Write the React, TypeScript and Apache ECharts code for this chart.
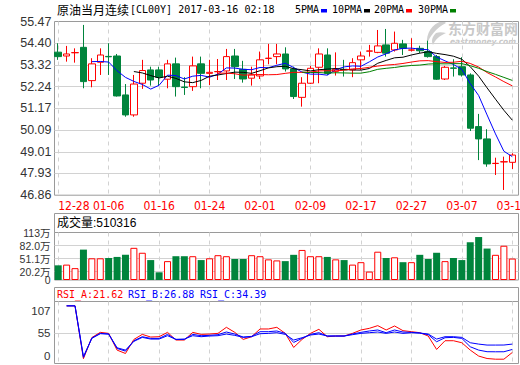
import React, { useEffect, useRef } from 'react';
import * as echarts from 'echarts';

const dates = ['12-28','12-29','12-30','01-03','01-04','01-05','01-06','01-09','01-10','01-11','01-12','01-13','01-16','01-17','01-18','01-19','01-20','01-23','01-24','01-25','01-26','01-27','01-30','01-31','02-01','02-02','02-03','02-06','02-07','02-08','02-09','02-10','02-13','02-14','02-15','02-16','02-17','02-20','02-21','02-22','02-23','02-24','02-27','02-28','03-01','03-02','03-03','03-06','03-07','03-08','03-09','03-10','03-13','03-14','03-15'];
const dateTickIndex = [0, 6, 12, 18, 24, 30, 36, 42, 48, 54];

const opens = [53.95,53.76,53.92,54.19,52.54,53.45,53.74,53.76,51.83,50.84,52.41,53.07,53.07,52.61,53.37,52.22,52.24,53.37,52.90,52.98,53.02,53.76,53.10,52.66,52.77,53.64,53.73,53.86,53.12,51.71,52.41,53.20,53.81,53.00,53.10,53.07,53.57,54.00,53.94,54.31,54.06,54.36,54.05,54.14,53.98,53.73,52.62,53.17,53.23,52.82,50.26,49.65,48.43,48.51,48.49];
const closes = [53.73,53.86,53.93,52.49,53.37,53.81,53.72,51.78,50.84,52.37,53.04,52.57,52.71,53.37,52.24,52.20,53.27,52.90,52.95,52.99,53.73,53.23,52.62,52.82,53.57,53.65,53.86,53.12,51.75,52.41,53.15,53.86,52.90,53.10,53.07,53.43,53.76,54.01,54.26,53.90,54.39,54.14,54.06,54.02,53.73,52.61,53.20,53.15,52.82,50.18,49.65,48.41,48.44,48.52,48.85];
const lows = [53.57,53.48,53.43,52.16,52.21,52.82,52.82,51.75,50.75,50.75,52.13,52.29,52.32,52.16,51.75,51.83,52.03,52.16,52.32,52.57,52.57,52.62,52.44,52.29,52.62,53.35,53.35,52.99,51.63,51.25,52.37,52.41,52.82,52.79,52.74,52.71,53.07,53.73,53.90,53.73,53.98,53.81,53.98,53.90,53.68,52.57,52.57,52.74,52.74,50.04,48.60,48.27,47.86,47.12,48.16];
const highs = [54.39,54.26,54.14,55.30,53.65,54.14,54.39,53.86,52.37,52.82,53.57,53.23,53.23,53.57,53.68,52.71,53.73,53.73,53.57,53.61,54.11,54.11,53.52,53.23,53.98,54.36,54.36,54.19,53.23,52.71,53.27,54.14,54.14,53.94,53.57,53.65,53.98,54.31,55.05,55.10,54.97,54.56,54.64,54.27,54.52,53.81,53.27,53.60,53.70,52.90,50.89,50.13,48.72,48.77,48.94];

const volumes = [349000,366000,282000,723000,516000,516000,524000,549000,599000,765000,648000,474000,183000,449000,566000,566000,566000,474000,516000,590000,566000,499000,499000,590000,566000,491000,466000,449000,599000,715000,566000,566000,549000,491000,474000,366000,424000,200000,673000,524000,540000,424000,424000,599000,499000,648000,449000,524000,474000,898000,1022000,748000,599000,815000,510316];

const lead = (n: number, arr: number[]) => [...Array(n).fill(null), ...arr];
const ma5 = lead(4, [53.48,53.49,53.46,53.03,52.70,52.50,52.35,52.12,52.31,52.81,52.79,52.62,52.76,52.80,52.71,52.86,53.17,53.16,53.10,53.08,53.19,53.18,53.30,53.40,53.19,52.96,52.86,52.86,52.81,53.08,53.22,53.27,53.25,53.47,53.71,53.87,54.06,54.14,54.15,54.10,54.07,53.71,53.52,53.34,53.10,52.39,51.80,50.84,49.90,49.04,48.77]);
const ma10 = lead(9, [52.99,52.92,52.79,52.67,52.76,52.65,52.48,52.44,52.55,52.76,52.82,52.89,52.96,52.95,52.90,53.03,53.17,53.23,53.25,53.13,53.08,53.02,53.08,53.11,53.14,53.09,53.07,53.06,53.14,53.40,53.54,53.67,53.70,53.81,53.90,53.97,53.89,53.83,53.75,53.60,53.23,52.76,52.18,51.62,51.07,50.58]);
const ma20 = lead(19, [52.91,52.91,52.88,52.81,52.83,52.84,52.83,52.84,52.90,52.95,52.95,52.96,53.02,53.03,53.02,53.06,53.12,53.14,53.20,53.26,53.31,53.34,53.39,53.46,53.52,53.53,53.48,53.44,53.45,53.50,53.39,53.21,52.94,52.72,52.49,52.28]);
const ma30 = lead(29, [52.96,52.94,52.94,52.91,52.93,52.92,52.91,52.91,52.98,53.10,53.15,53.19,53.25,53.29,53.31,53.36,53.38,53.37,53.38,53.38,53.28,53.15,52.99,52.85,52.70,52.55]);

const rsiA = [null,119,119,-6,44,56.3,53.9,14.3,6.3,39.6,51.5,45.2,46.0,56.3,38.1,38.1,56.3,51.5,52.3,53.9,68.2,56.3,39.6,46.0,64.3,64.3,68.2,53.9,20.6,39.6,53.9,63.5,46.0,47.6,47.6,53.9,61.9,65.8,72.2,61.9,71.4,60.3,57.9,55.5,47.6,15.8,36.5,36.5,31.7,14.3,0.2,-5.6,-7.2,-7.2,8.7];
const rsiB = [null,119,119,-3,43,53.9,52.3,18.2,11.9,36.5,46.0,42.0,42.0,51.5,39.6,39.6,51.5,48.4,49.2,50.8,57.1,52.3,45.2,46.8,57.9,57.9,59.5,53.9,32.5,42.0,51.5,55.5,47.6,47.6,47.6,52.3,56.3,59.5,61.9,55.5,61.9,57.1,56.3,54.7,50.8,34.1,43.6,44.4,42.0,22.2,14.3,10.5,10.3,10.4,15.8];
const rsiC = [null,119,119,-1,42,53.1,52.3,19.8,14.3,34.9,44.4,40.4,40.4,48.4,39.6,40.4,48.4,46.0,47.6,48.4,52.3,49.2,44.4,46.0,53.1,53.9,55.5,51.5,38.1,43.6,50.0,52.3,47.6,47.6,47.6,50.8,53.9,55.5,57.1,53.9,57.1,53.9,55.5,54.7,52.3,40.4,46.0,46.0,44.4,31.7,28.5,26.2,26.2,26.3,28.5];
const rsiHeader = ['RSI_A:21.62', 'RSI_B:26.88', 'RSI_C:34.39'];

const priceMin = 46.86;
const priceMax = 55.47;
const priceLabels = ['46.86','47.93','49.01','50.09','51.17','52.24','53.32','54.40','55.47'];
const volMin = 0;
const volMax = 1130000;
const volTicks = [202000, 511000, 820000, 1130000];
const volTickLabels = ['20.2万', '51.1万', '82.0万', '113万'];
const volZeroTick = [0];
const volGridValues = [202000, 511000, 820000];
const rsiMin = -17.4;
const rsiMax = 129.3;
const rsiTicks = [0, 55, 107];
const rsiGridValues = [55];

const titleCn = '原油当月连续';
const titleEn = '[CL00Y] 2017-03-16 02:18';
const maNames = ['5PMA', '10PMA', '20PMA', '30PMA'];

const GREEN = '#00843c';
const RED = '#ff0000';
const BLUE = '#0000ff';
const FRAME = '#9a9a9a';
const GRIDC = '#d2d2d2';
const MONO = "'DejaVu Sans Mono', 'Liberation Mono', monospace";
const SANS = "'Liberation Sans', Arial, sans-serif";
const CJK = "'Noto Sans CJK SC', sans-serif";

const LOGO_D = 'M17 0 C7 3 1 12 2 23 C5 15 11 7 21 2 C20 1 18.5 0 17 0 Z M11 12 C7 16 6 20 8 24 C10 19 14 15 21 12 C17 11 14 11 11 12 Z';

export default function App() {
  const ref = useRef<HTMLDivElement>(null);
  useEffect(() => {
    if (!ref.current) return;
    try {
      echarts.graphic.registerShape('emLogo', echarts.graphic.extendPath(LOGO_D, {}));
    } catch (e) {}
    const chart = echarts.init(ref.current, null, { renderer: 'svg', width: 520, height: 365 });

    const gridBase = { containLabel: false, outerBoundsMode: 'none', backgroundColor: 'transparent' };
    const frame = { show: true, borderColor: FRAME, borderWidth: 1 };
    const grid = [
      { ...gridBase, left: 54, top: 21.5, width: 462.5, height: 173.7 },
      { ...gridBase, ...frame, left: 54.5, top: 21.5, width: 464, height: 173.7 },
      { ...gridBase, left: 54, top: 232.5, width: 462.5, height: 47.5 },
      { ...gridBase, ...frame, left: 54.5, top: 232.5, width: 464, height: 47.5 },
      { ...gridBase, left: 54, top: 301.5, width: 462.5, height: 62 },
      { ...gridBase, ...frame, left: 54.5, top: 301.5, width: 464, height: 62 },
    ];

    const catAxis = (gridIndex: number, withLabel: boolean) => ({
      type: 'category', gridIndex, data: dates, boundaryGap: true,
      axisLine: { show: false }, axisTick: { show: false }, splitLine: { show: false },
      axisLabel: withLabel ? {
        show: true, interval: 5, color: RED, fontSize: 12, margin: 5,
        fontFamily: "'Liberation Sans Narrow', 'DejaVu Sans Condensed', sans-serif",
        alignMinLabel: 'left',
      } : { show: false },
    });
    const dashAxis = (gridIndex: number) => ({
      type: 'value', gridIndex, min: -0.5, max: dates.length - 0.5,
      axisLine: { show: false }, axisLabel: { show: false },
      axisTick: { show: false, customValues: dateTickIndex },
      splitLine: { show: true, lineStyle: { color: GRIDC, type: [4, 4], width: 1 } },
    });
    const hiddenX = (gridIndex: number) => ({ type: 'value', gridIndex, show: false, min: 0, max: 1 });

    const nearestPrice = (v: number) => {
      let best = 0;
      priceLabels.forEach((l, i) => { if (Math.abs(+l - v) < Math.abs(+priceLabels[best] - v)) best = i; });
      return priceLabels[best];
    };
    const volLabelStyle = { color: '#333', fontSize: 10.5, lineHeight: 9, fontFamily: SANS + ", 'Noto Sans CJK SC'", margin: 4, hideOverlap: false };

    const option: any = {
      animation: false,
      backgroundColor: '#fff',
      grid,
      xAxis: [
        catAxis(0, true), dashAxis(0), hiddenX(1),
        catAxis(2, false), dashAxis(2), hiddenX(3),
        catAxis(4, false), dashAxis(4), hiddenX(5),
      ],
      yAxis: [
        { type: 'value', gridIndex: 0, min: priceMin, max: priceMax, show: false },
        {
          type: 'value', gridIndex: 1, min: priceMin, max: priceMax, interval: (priceMax - priceMin) / 8,
          axisLine: { show: false }, axisTick: { show: false },
          axisLabel: { color: '#333', fontSize: 12.5, fontFamily: SANS, margin: 3, formatter: (v: number) => nearestPrice(v) },
          splitLine: { show: true, showMinLine: false, showMaxLine: false, lineStyle: { color: GRIDC } },
        },
        { type: 'value', gridIndex: 2, min: volMin, max: volMax, show: false },
        {
          type: 'value', gridIndex: 3, min: volMin, max: volMax, position: 'left',
          axisLine: { show: false }, axisTick: { show: false, customValues: volGridValues },
          axisLabel: {
            ...volLabelStyle, customValues: volTicks, padding: [0, 0, 2, 0],
            formatter: (v: number) => volTickLabels[volTicks.indexOf(v)] ?? '',
          },
          splitLine: { show: true, lineStyle: { color: GRIDC } },
        },
        { type: 'value', gridIndex: 4, min: rsiMin, max: rsiMax, show: false },
        {
          type: 'value', gridIndex: 5, min: rsiMin, max: rsiMax,
          axisLine: { show: false }, axisTick: { show: false, customValues: rsiGridValues },
          axisLabel: { customValues: rsiTicks, hideOverlap: false, color: '#333', fontSize: 11.5, fontFamily: SANS, margin: 4 },
          splitLine: { show: true, lineStyle: { color: GRIDC } },
        },
        {
          type: 'value', gridIndex: 3, min: volMin, max: volMax, position: 'left', offset: 0,
          axisLine: { show: false }, axisTick: { show: false }, splitLine: { show: false },
          axisLabel: { ...volLabelStyle, customValues: volZeroTick, padding: [5, 0, 0, 0], formatter: (v: number) => String(v) },
        },
      ],
      series: [
        {
          type: 'candlestick', xAxisIndex: 0, yAxisIndex: 0, barWidth: 7,
          data: opens.map((o, i) => [o, closes[i], lows[i], highs[i]]),
          itemStyle: { color: '#ffffff', color0: GREEN, borderColor: RED, borderColor0: GREEN, borderWidth: 1 },
          z: 2,
        },
        ...[ma5, ma10, ma20, ma30].map((d, k) => ({
          type: 'line', xAxisIndex: 0, yAxisIndex: 0, data: d, symbol: 'none', z: 3,
          lineStyle: { width: 1, color: [BLUE, '#000000', RED, '#008000'][k] },
          itemStyle: { color: [BLUE, '#000000', RED, '#008000'][k] },
        })),
        {
          type: 'bar', xAxisIndex: 3, yAxisIndex: 2, barWidth: 7,
          data: volumes.map((v, i) => ({
            value: v,
            itemStyle: closes[i] >= opens[i]
              ? { color: '#ffffff', borderColor: RED, borderWidth: 1 }
              : { color: GREEN, borderColor: GREEN, borderWidth: 0 },
          })),
        },
        ...[rsiA, rsiB, rsiC].map((d, k) => ({
          type: 'line', xAxisIndex: 6, yAxisIndex: 4, data: d, symbol: 'none', z: 3,
          lineStyle: { width: 1, color: [RED, BLUE, BLUE][k] },
          itemStyle: { color: [RED, BLUE, BLUE][k] },
        })),
      ],
      graphic: [
        { type: 'emLogo', x: 425, y: 21, scaleX: 1, scaleY: 1, style: { fill: '#cfcfcf' }, z: -1, silent: true },
        { type: 'text', x: 448, y: 21, z: -1, silent: true, style: { text: '东方财富网', fontSize: 14, fontWeight: 'bold', fontFamily: CJK, fill: '#c8c8c8', lineHeight: 14 } },
        { type: 'text', x: 450, y: 37.5, z: -1, silent: true, style: { text: 'eastmoney.com', fontSize: 7.5, fontWeight: 'bold', fontStyle: 'italic', fontFamily: "'DejaVu Sans', sans-serif", fill: '#c8c8c8', lineHeight: 8 } },
        { type: 'text', x: 57, y: 9.5, style: { text: titleCn, fontSize: 12, fontFamily: CJK, fill: '#000', verticalAlign: 'middle' } },
        { type: 'text', x: 130, y: 9.5, style: { text: titleEn, fontSize: 10, fontFamily: MONO, fill: '#000', verticalAlign: 'middle' } },
        ...maNames.flatMap((name, k) => {
          const xs = [295, 332, 374, 418];
          const cs = [BLUE, '#000000', RED, '#008000'];
          return [
            { type: 'text', x: xs[k], y: 9.5, style: { text: name, fontSize: 10, fontFamily: MONO, fill: '#000', verticalAlign: 'middle' } },
            { type: 'rect', shape: { x: xs[k] + name.length * 6 + 2, y: 9, width: 6, height: 3.5 }, style: { fill: cs[k] } },
          ];
        }),
        { type: 'rect', shape: { x: 54.5, y: 213.5, width: 464, height: 19 }, style: { fill: 'none', stroke: FRAME, lineWidth: 1 } },
        { type: 'text', x: 57, y: 223, style: { text: '成交量:' + volumes[volumes.length - 1], fontSize: 12, fontFamily: SANS + ", 'Noto Sans CJK SC'", fill: '#000', verticalAlign: 'middle' } },
        { type: 'rect', shape: { x: 54.5, y: 287.5, width: 464, height: 14 }, style: { fill: 'none', stroke: FRAME, lineWidth: 1 } },
        ...rsiHeader.map((t, k) => ({
          type: 'text', x: [57, 128, 200][k], y: 294.5,
          style: { text: t, fontSize: 10, fontFamily: MONO, fill: [RED, BLUE, BLUE][k], verticalAlign: 'middle' },
        })),
      ],
    };
    chart.setOption(option);
    return () => chart.dispose();
  }, []);
  return <div ref={ref} style={{ position: 'fixed', left: 0, top: 0, width: 520, height: 365, background: '#fff' }} />;
}
